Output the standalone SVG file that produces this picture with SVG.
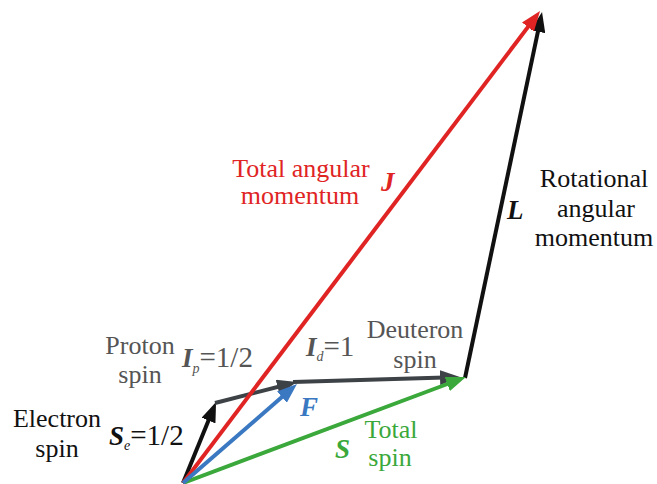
<svg xmlns="http://www.w3.org/2000/svg" width="657" height="484" viewBox="0 0 657 484">
<style>
text{font-family:"Liberation Serif",Tinos,"Nimbus Roman","Noto Serif",FreeSerif,"Times New Roman",Times,"DejaVu Serif",serif}
.t{font-size:26px;font-weight:normal;font-style:normal}
.eq{font-size:29px;font-weight:normal;font-style:normal}
.v{font-size:27px;font-weight:bold;font-style:italic}
.sub{font-size:14px;font-style:italic}
.ln{fill:none;stroke-width:4;stroke-linecap:butt}
</style>
<defs>
<marker id="hk" markerUnits="userSpaceOnUse" markerWidth="20" markerHeight="15" refX="13" refY="7.5" orient="auto"><path d="M0,0 L20,7.5 L0,15 z" fill="#111"/></marker>
<marker id="hg" markerUnits="userSpaceOnUse" markerWidth="20" markerHeight="15" refX="13" refY="7.5" orient="auto"><path d="M0,0 L20,7.5 L0,15 z" fill="#3d4247"/></marker>
<marker id="hr" markerUnits="userSpaceOnUse" markerWidth="20" markerHeight="15" refX="13" refY="7.5" orient="auto"><path d="M0,0 L20,7.5 L0,15 z" fill="#e02424"/></marker>
<marker id="hb" markerUnits="userSpaceOnUse" markerWidth="20" markerHeight="15" refX="13" refY="7.5" orient="auto"><path d="M0,0 L20,7.5 L0,15 z" fill="#3b78c2"/></marker>
<marker id="hgr" markerUnits="userSpaceOnUse" markerWidth="20" markerHeight="15" refX="13" refY="7.5" orient="auto"><path d="M0,0 L20,7.5 L0,15 z" fill="#3aa83a"/></marker>
</defs>
<rect width="657" height="484" fill="#fff"/>
<g id="connectors">
<line id="L-vec" class="ln" x1="465" y1="378" x2="540.6" y2="18.9" stroke="#111" marker-end="url(#hk)"/>
<line id="Id-vec" class="ln" x1="293" y1="382" x2="453" y2="377.2" stroke="#3d4247" marker-end="url(#hg)"/>
<line id="S-vec" class="ln" x1="183" y1="483" x2="459.4" y2="379.5" stroke="#3aa83a" marker-end="url(#hgr)"/>
<line id="Se-vec" class="ln" x1="183" y1="483" x2="213.4" y2="408.5" stroke="#111" marker-end="url(#hk)"/>
<line id="Ip-vec" class="ln" x1="215" y1="403" x2="290.2" y2="383.8" stroke="#3d4247" marker-end="url(#hg)"/>
<line id="J-vec" class="ln" x1="183" y1="483" x2="535.8" y2="16.6" stroke="#e02424" marker-end="url(#hr)"/>
<line id="F-vec" class="ln" x1="183" y1="483" x2="291.7" y2="388.6" stroke="#3b78c2" marker-end="url(#hb)"/>
</g>
<g id="total-angular-momentum" fill="#e02424">
<text class="t" x="301" y="177" text-anchor="middle">Total angular</text>
<text class="t" x="300" y="204" text-anchor="middle">momentum</text>
<text class="v" x="381" y="191">J</text>
</g>
<g id="rotational-angular-momentum" fill="#111">
<text class="t" x="594" y="187" text-anchor="middle">Rotational</text>
<text class="t" x="596" y="217" text-anchor="middle">angular</text>
<text class="t" x="594" y="246" text-anchor="middle">momentum</text>
<text class="v" x="507" y="219">L</text>
</g>
<g id="proton-spin" fill="#555">
<text class="t" x="140" y="354" text-anchor="middle">Proton</text>
<text class="t" x="140" y="383" text-anchor="middle">spin</text>
<text x="182" y="367"><tspan class="v">I</tspan><tspan class="sub" dy="6">p</tspan><tspan class="eq" dy="-6">=1/2</tspan></text>
</g>
<g id="electron-spin" fill="#111">
<text class="t" x="57" y="427" text-anchor="middle">Electron</text>
<text class="t" x="57" y="457" text-anchor="middle">spin</text>
<text x="109" y="445"><tspan class="v">S</tspan><tspan class="sub" dy="5">e</tspan><tspan class="eq" dy="-5">=1/2</tspan></text>
</g>
<g id="deuteron-spin" fill="#555">
<text class="t" x="415" y="338" text-anchor="middle">Deuteron</text>
<text class="t" x="415" y="368" text-anchor="middle">spin</text>
<text x="306" y="356"><tspan class="v">I</tspan><tspan class="sub" dy="5">d</tspan><tspan class="eq" dy="-5">=1</tspan></text>
</g>
<g id="F-label" fill="#3b78c2">
<text class="v" x="300" y="416">F</text>
</g>
<g id="total-spin" fill="#3aa83a">
<text class="v" x="335" y="458">S</text>
<text class="t" x="391" y="438" text-anchor="middle">Total</text>
<text class="t" x="390" y="466" text-anchor="middle">spin</text>
</g>
</svg>
